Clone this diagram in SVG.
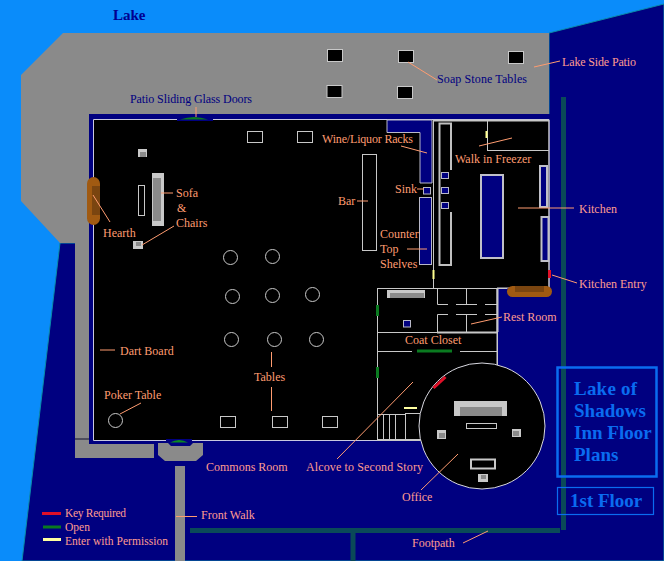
<svg xmlns="http://www.w3.org/2000/svg" width="664" height="561" viewBox="0 0 664 561">
<style>
text{font-family:"Liberation Serif","Times New Roman",serif;font-size:12px;fill:#ff9c70}
.n{fill:#000080}
.p{fill:#ff9c90}
.l{font-size:11.500px}
.h{font-size:19px;font-weight:bold;fill:#0a6cf0}
.w{stroke:#c8c8c8;stroke-width:1;fill:none}
.t{stroke:#c8c8c8;stroke-width:1;fill:#000}
.b{stroke:#c0c0c8;stroke-width:2;fill:#000080}
.lt{fill:#c8c8c8}
.gr{fill:#8a8a8a}
.path{stroke:#0a4a58;stroke-width:5;fill:none}
#connectors line{stroke:#ff9c70;stroke-width:1}
</style>
<rect width="664" height="561" fill="#0a8cfa"/>
<g id="ground">
<polygon points="549,33 664,4 664,561 22,561 60,243 89,243 89,114 549,114" fill="#000080" stroke="#0a8ca8" stroke-width="1"/>
<polygon points="63,33 549,33 549,114 89,114 89,444 154,444 154,458 75,458 75,243 60,243 21,201 21,75" fill="#8a8a8a"/>
<rect x="89" y="114" width="460" height="6" fill="#000080"/>
<rect x="89" y="114" width="4" height="330" fill="#000080"/>
<rect x="89" y="440" width="320" height="3" fill="#000080"/>
<line x1="75" y1="439" x2="89" y2="439" stroke="#101030"/>
</g>
<g id="paths">
<path class="path" d="M563.500 97V530M190 530.500H560M353 530V561"/>
<polygon points="158,443 168,443 171,446 190,446 193,443 203,443 203,455 196,461 165,461 158,455" fill="#8a8a8a"/>
<rect x="175" y="466" width="10" height="95" fill="#8a8a8a"/>
</g>
<g id="building">
<path d="M93.500 119.500H549V288H497V385H438V440.500H93.500Z" fill="#000" stroke="#c8c8e0" stroke-width="1"/>
<path class="w" d="M433.500 120V288M487.500 120V150M487 150.500H549M549 120V288"/>
<path d="M433 120.500H549" stroke="#c8c8c8" stroke-width="2"/>
<path class="w" d="M377.500 288V440M377 288.500H507M437.500 288V304.500H448M456 304.500H477M485 304.500H497M466.500 288V304M437.500 332V314.500H448M456 314.500H477M485 314.500H497M466.500 314V332M377 332.500H497M377 351.500H412M460 351.500H497M497.500 288V367"/>
<path d="M437 332.500H497M497.500 288V332" stroke="#c8c8c8" stroke-width="2" fill="none"/>
<path class="w" d="M377 414.500H405M383.500 414V440M389.500 414V440M395.500 414V440M405.500 414V440M405 413.500H420"/>
<path d="M377 440H421" stroke="#c8c8c8" stroke-width="2"/>
</g>
<g id="patio-tables">
<rect class="t" x="327.500" y="49.500" width="15" height="12"/>
<rect class="t" x="398.500" y="50.500" width="15" height="12"/>
<rect class="t" x="508.500" y="51.500" width="15" height="12"/>
<rect class="t" x="327" y="85.500" width="15" height="12"/>
<rect class="t" x="397.500" y="86.500" width="15" height="12"/>
</g>
<g id="hearth">
<rect x="87" y="177" width="13" height="48" rx="6.500" fill="#a05a12"/>
<rect x="92" y="186" width="8" height="29" fill="#7a4510"/>
</g>
<g id="sofa-chairs">
<rect class="lt" x="152" y="173" width="12" height="53"/>
<rect class="gr" x="153" y="178" width="8" height="43"/>
<rect class="w" x="138.500" y="185.500" width="6" height="30"/>
<rect class="lt" x="138" y="149" width="9" height="8"/>
<rect class="gr" x="140" y="152" width="6" height="5"/>
<rect class="lt" x="133" y="241" width="10" height="8"/>
<rect class="gr" x="136" y="242" width="5" height="4"/>
</g>
<g id="commons-tables">
<rect class="w" x="247.500" y="131.500" width="15" height="11"/>
<rect class="w" x="297.500" y="131.500" width="15" height="11"/>
<rect class="w" x="220.500" y="416.500" width="15" height="11"/>
<rect class="w" x="272.500" y="416.500" width="15" height="11"/>
<rect class="w" x="322.500" y="416.500" width="15" height="11"/>
<circle class="w" cx="230.500" cy="257.500" r="7"/>
<circle class="w" cx="272.500" cy="256.500" r="7"/>
<circle class="w" cx="232.500" cy="296.500" r="7"/>
<circle class="w" cx="272.500" cy="295.500" r="7"/>
<circle class="w" cx="312.500" cy="294.500" r="7"/>
<circle class="w" cx="231.500" cy="339.500" r="7"/>
<circle class="w" cx="274.500" cy="339.500" r="7"/>
<circle class="w" cx="316.500" cy="339.500" r="7"/>
<circle class="w" cx="115.500" cy="420.500" r="7"/>
</g>
<g id="bar">
<rect class="w" x="362.500" y="154.500" width="14" height="96"/>
<path d="M387 120H432V183H420V132.500H387Z" fill="#000080" stroke="#b8b8c8" stroke-width="1"/>
<rect x="423.500" y="187.500" width="7" height="6.500" fill="#000080" stroke="#b8b8c8"/>
<rect x="419.500" y="197.500" width="12" height="67" fill="#000080" stroke="#b8b8c8"/>
</g>
<g id="kitchen">
<path d="M451 170V123.500H439.500V265H451V212" fill="none" stroke="#c0c0c0" stroke-width="2"/>
<rect x="441.500" y="172.500" width="7" height="6" fill="#000080" stroke="#b8b8c8"/>
<rect x="441.500" y="187.500" width="7" height="6" fill="#000080" stroke="#b8b8c8"/>
<rect x="441.500" y="202.500" width="7" height="6" fill="#000080" stroke="#b8b8c8"/>
<rect class="b" x="481" y="175" width="22" height="83"/>
<rect class="b" x="540" y="166" width="7" height="41"/>
<rect class="b" x="541.500" y="217" width="7" height="44"/>
<rect x="507" y="286" width="45" height="11" rx="5.500" fill="#a05a12"/>
<rect x="515" y="286" width="29" height="6" fill="#7a4510"/>
</g>
<g id="coat-room">
<rect class="lt" x="387" y="290" width="38" height="8"/>
<rect class="gr" x="390" y="293" width="34" height="5"/>
<rect x="403.500" y="320.500" width="7" height="6.500" fill="#000080" stroke="#b8b8c8"/>
</g>
<g id="office">
<circle cx="482" cy="426" r="63" fill="#000" stroke="#d8d8e0" stroke-width="1"/>
<rect class="lt" x="454" y="401" width="53" height="15"/>
<rect class="gr" x="460" y="407" width="42" height="9"/>
<rect class="w" x="466.500" y="423.500" width="30" height="5"/>
<rect class="lt" x="437" y="430" width="9" height="9"/>
<rect class="gr" x="439" y="433" width="6" height="5"/>
<rect class="lt" x="512" y="429" width="9" height="8"/>
<rect class="gr" x="513" y="431" width="6" height="5"/>
<path d="M471 459.500H495V468.500H471Z" fill="none" stroke="#c8c8c8" stroke-width="2"/>
<rect class="lt" x="478" y="474" width="10" height="8"/>
<rect class="gr" x="481" y="475" width="5" height="4"/>
</g>
<g id="doors" fill="none" stroke-width="3">
<rect x="177" y="118" width="36" height="3" fill="#000080" stroke="none"/>
<path d="M180 119.500Q194 114.500 208 119.500Z" fill="#0a7a20" stroke="none"/>
<rect x="166" y="439" width="26" height="4" fill="#000080" stroke="none"/>
<path d="M170 442.500Q179 437.500 188 442.500Z" fill="#0a8a20" stroke="none"/>
<path d="M377.500 305V316M377.500 367V378M417 351H452" stroke="#0a7a20"/>
<path d="M549.500 270V278" stroke="#e01028"/>
<path d="M433.500 388L445.500 377" stroke="#e01028"/>
<path d="M486.500 131V138" stroke="#ffff90" stroke-width="2"/>
<path d="M433.500 270V279" stroke="#ffff90" stroke-width="2"/>
<path d="M404 408H417" stroke="#ffffa0" stroke-width="2"/>
</g>
<g id="connectors">
<line x1="196" y1="107" x2="196" y2="117"/>
<line x1="408" y1="62" x2="437" y2="80"/>
<line x1="534" y1="67" x2="560" y2="61"/>
<line x1="401" y1="146" x2="427" y2="153"/>
<line x1="479" y1="146" x2="512" y2="138"/>
<line x1="417" y1="189" x2="424" y2="189"/>
<line x1="357" y1="201" x2="368" y2="201"/>
<line x1="407" y1="249" x2="427" y2="249"/>
<line x1="518" y1="208" x2="574" y2="208"/>
<line x1="552" y1="275" x2="577" y2="283"/>
<line x1="471" y1="324" x2="502" y2="317"/>
<line x1="161" y1="193" x2="173" y2="193"/>
<line x1="142" y1="245" x2="174" y2="226"/>
<line x1="93" y1="195" x2="110" y2="222"/>
<line x1="100" y1="350" x2="115" y2="350"/>
<line x1="271.500" y1="352" x2="271.500" y2="367"/>
<line x1="271.500" y1="387" x2="271.500" y2="411"/>
<line x1="120" y1="414" x2="141" y2="403"/>
<line x1="337" y1="459" x2="413" y2="382"/>
<line x1="421" y1="490" x2="458" y2="454"/>
<line x1="463" y1="543" x2="488" y2="531"/>
<line x1="176" y1="516.500" x2="197" y2="516.500"/>
</g>
<g id="legend" stroke-width="3">
<line x1="42" y1="513.500" x2="61" y2="513.500" stroke="#e01028"/>
<line x1="43" y1="527" x2="61" y2="527" stroke="#0a7a20"/>
<line x1="43" y1="539.500" x2="61" y2="539.500" stroke="#ffffa0"/>
<text class="p l" x="65" y="517" textLength="61">Key Required</text>
<text class="p l" x="65" y="531">Open</text>
<text class="p l" x="65" y="545" textLength="103">Enter with Permission</text>
</g>
<g id="title">
<rect x="557.500" y="367.500" width="99" height="109" fill="none" stroke="#0a6cf0" stroke-width="2.500"/>
<rect x="557.500" y="487.500" width="96" height="27" fill="none" stroke="#0a6cf0" stroke-width="1.200"/>
<text class="h" x="574" y="395" textLength="63">Lake of</text>
<text class="h" x="574" y="417">Shadows</text>
<text class="h" x="574" y="439">Inn Floor</text>
<text class="h" x="574" y="461">Plans</text>
<text class="h" x="570" y="507">1st Floor</text>
</g>
<g id="labels">
<text x="113" y="20" style="font-size:15px;font-weight:bold;fill:#000090">Lake</text>
<text class="n" x="130" y="103" textLength="122">Patio Sliding Glass Doors</text>
<text class="n" x="437" y="83" textLength="90">Soap Stone Tables</text>
<text class="p" x="562" y="66" textLength="74">Lake Side Patio</text>
<text x="322" y="143" textLength="91">Wine/Liquor Racks</text>
<text x="455" y="163">Walk in Freezer</text>
<text x="395" y="193">Sink</text>
<text x="338" y="205">Bar</text>
<text x="380" y="238">Counter</text>
<text x="380" y="253">Top</text>
<text x="380" y="268">Shelves</text>
<text class="p" x="579" y="213">Kitchen</text>
<text class="p" x="579" y="288">Kitchen Entry</text>
<text class="p" x="503" y="321">Rest Room</text>
<text x="405" y="344">Coat Closet</text>
<text x="176" y="197">Sofa</text>
<text x="177" y="212">&amp;</text>
<text x="176" y="227">Chairs</text>
<text x="103" y="237">Hearth</text>
<text x="120" y="355">Dart Board</text>
<text x="254" y="381">Tables</text>
<text x="104" y="399">Poker Table</text>
<text class="p" x="206" y="471">Commons Room</text>
<text class="p" x="306" y="471" textLength="117">Alcove to Second Story</text>
<text class="p" x="402" y="501">Office</text>
<text class="p" x="412" y="547">Footpath</text>
<text class="p" x="201" y="519">Front Walk</text>
</g>
</svg>
